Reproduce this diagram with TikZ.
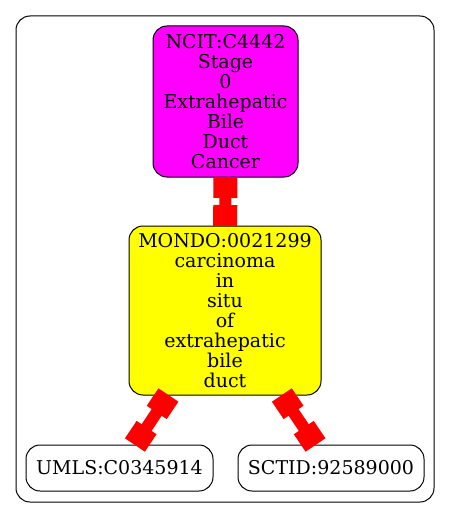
\documentclass[tikz,border=0pt]{standalone}
\usepackage{fontspec}
\setmainfont{DejaVu Serif}
\usetikzlibrary{arrows.meta}
\definecolor{mag}{RGB}{255,0,255}
\definecolor{yel}{RGB}{255,255,0}
\definecolor{ered}{RGB}{255,0,0}
\begin{document}
\begin{tikzpicture}[x=1pt,y=-1pt,
  every node/.style={inner sep=0pt, outer sep=0pt},
  term/.style={draw=black, line width=1pt, rounded corners=14pt, align=center,
    font=\fontsize{19}{20}\selectfont},
  link/.style={draw=ered, line width=12pt,
    {Rectangle[length=21pt,width=24pt]}-{Rectangle[length=21pt,width=24pt]}}]
\useasboundingbox (0,0) rectangle (451,519);
\node[draw=black, line width=1pt, rounded corners=14pt, minimum width=418pt, minimum height=486pt] (cluster) at (225,259) {};
\node[term, fill=mag, minimum width=145pt, minimum height=151pt] (ncit) at (225.5,101.5)
  {NCIT:C4442\\Stage\\0\\Extrahepatic\\Bile\\Duct\\Cancer};
\node[term, fill=yel, minimum width=192pt, minimum height=169pt] (mondo) at (225,310.5)
  {MONDO:0021299\\carcinoma\\in\\situ\\of\\extrahepatic\\bile\\duct};
\node[term, fill=white, minimum width=187pt, minimum height=46pt] (umls) at (119.5,468) {UMLS:C0345914};
\node[term, fill=white, minimum width=186pt, minimum height=46pt] (sctid) at (331,468) {SCTID:92589000};
\draw[link] (ncit) -- (mondo);
\draw[link] (mondo) -- (umls);
\draw[link] (mondo) -- (sctid);
\end{tikzpicture}
\end{document}
